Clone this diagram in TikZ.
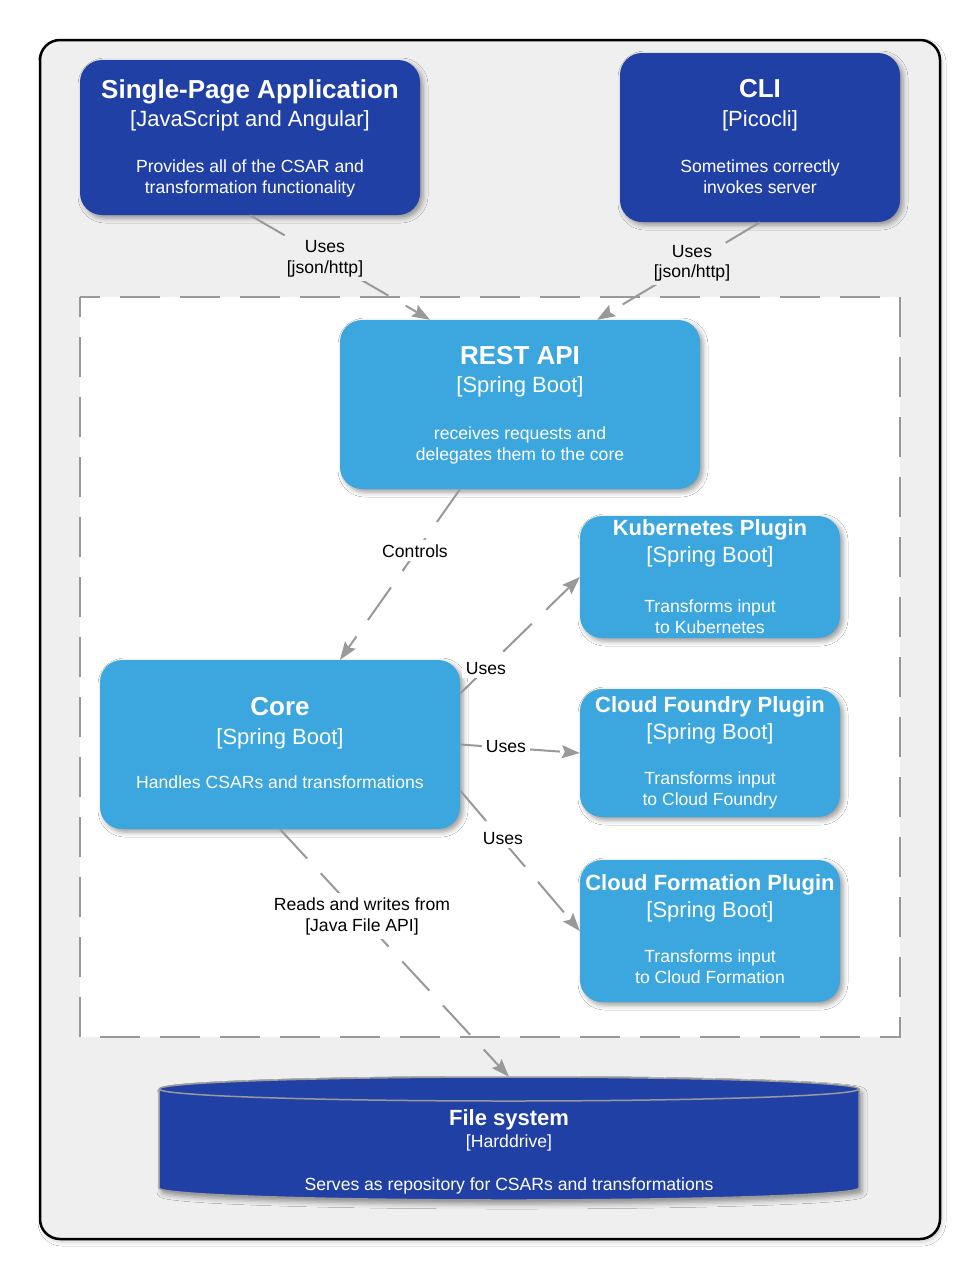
\documentclass[tikz,border=0pt]{standalone}
\usepackage{fontspec}
\setmainfont{Liberation Sans}
\usetikzlibrary{arrows.meta,shadows.blur}
\definecolor{darkblue}{RGB}{33,64,166}
\definecolor{lightblue}{RGB}{60,166,222}
\definecolor{linegray}{RGB}{153,153,153}
\definecolor{bggray}{RGB}{239,239,239}
\begin{document}
\begin{tikzpicture}[x=1pt,y=-1pt,
  box/.style={rectangle, rounded corners=22pt, draw=none, inner sep=0pt,
    blur shadow={shadow xshift=3pt, shadow yshift=-3pt, shadow blur radius=5pt, shadow opacity=40}},
  darkbox/.style={box, fill=darkblue},
  lightbox/.style={box, fill=lightblue},
  ttl/.style={text=white, font=\fontsize{26}{30}\selectfont\bfseries, anchor=base, inner sep=0pt},
  pttl/.style={text=white, font=\fontsize{22}{26}\selectfont\bfseries, anchor=base, inner sep=0pt},
  tech/.style={text=white, font=\fontsize{22}{26}\selectfont, anchor=base, inner sep=0pt},
  desc/.style={text=white, font=\fontsize{17.6}{21}\selectfont, anchor=base, inner sep=0pt},
  lbl/.style={text=black, font=\fontsize{17.6}{21}\selectfont, anchor=base, inner sep=4pt, fill=white},
  olbl/.style={lbl, fill=bggray},
  conn/.style={draw=linegray, line width=2pt, dash pattern=on 40pt off 20pt,
    -{Stealth[length=18pt,width=13pt,inset=3pt]}},
]
\useasboundingbox (0,0) rectangle (980,1280);
\fill[white] (0,0) rectangle (980,1280);

% outer frame
\draw[line width=2.5pt, rounded corners=20pt, fill=bggray,
  blur shadow={shadow xshift=2pt, shadow yshift=-3pt, shadow blur radius=4pt, shadow opacity=20}]
  (40,40) rectangle (940,1239);

% container boundary
\draw[draw=linegray, line width=2pt, fill=white, dash pattern=on 40pt off 20pt, dash phase=20pt]
  (80,297) rectangle (900,1037);

% boxes
\node[darkbox, minimum width=340pt, minimum height=155pt] (spa) at (250,137.5) {};
\node[darkbox, minimum width=280pt, minimum height=169pt] (cli) at (760,137.5) {};
\node[lightbox, minimum width=360pt, minimum height=169pt] (rest) at (520,404.5) {};
\node[lightbox, minimum width=260pt, minimum height=122pt] (k8s) at (710,577) {};
\node[lightbox, minimum width=260pt, minimum height=128pt] (cf) at (710,753) {};
\node[lightbox, minimum width=260pt, minimum height=142pt] (cfm) at (710,931) {};
\node[lightbox, minimum width=360pt, minimum height=169pt] (core) at (280,744.5) {};

% cylinder (file system)
\path[fill=darkblue, blur shadow={shadow xshift=3pt, shadow yshift=-4pt, shadow blur radius=5pt, shadow opacity=40}]
  (159,1089) -- (159,1188) arc[start angle=180, end angle=0, x radius=350, y radius=12]
  -- (859,1089) arc[start angle=0, end angle=-180, x radius=350, y radius=12] -- cycle;
\draw[linegray, line width=1.5pt]
  (159,1089) -- (159,1188) arc[start angle=180, end angle=0, x radius=350, y radius=12]
  -- (859,1089) arc[start angle=0, end angle=-180, x radius=350, y radius=12];
\draw[linegray, line width=1.5pt]
  (159,1089) arc[start angle=180, end angle=0, x radius=350, y radius=12];
\node[inner sep=0pt, minimum width=700pt, minimum height=123pt] (fs) at (509,1138.5) {};

% texts
\node[ttl]  (spa-1) at (250,98)  {Single-Page Application};
\node[tech] (spa-2) at (250,126) {[JavaScript and Angular]};
\node[desc] (spa-3) at (250,172) {Provides all of the CSAR and};
\node[desc] (spa-4) at (250,193) {transformation functionality};

\node[ttl]  (cli-1) at (760,97)  {CLI};
\node[tech] (cli-2) at (760,126) {[Picocli]};
\node[desc] (cli-3) at (760,172) {Sometimes correctly};
\node[desc] (cli-4) at (760,193) {invokes server};

\node[ttl]  (rest-1) at (520,364) {REST API};
\node[tech] (rest-2) at (520,392) {[Spring Boot]};
\node[desc] (rest-3) at (520,439) {receives requests and};
\node[desc] (rest-4) at (520,460) {delegates them to the core};

\node[pttl] (k8s-1) at (710,535) {Kubernetes Plugin};
\node[tech] (k8s-2) at (710,562) {[Spring Boot]};
\node[desc] (k8s-3) at (710,612) {Transforms input};
\node[desc] (k8s-4) at (710,633) {to Kubernetes};

\node[pttl] (cf-1) at (710,712) {Cloud Foundry Plugin};
\node[tech] (cf-2) at (710,739) {[Spring Boot]};
\node[desc] (cf-3) at (710,784) {Transforms input};
\node[desc] (cf-4) at (710,805) {to Cloud Foundry};

\node[pttl] (cfm-1) at (710,890) {Cloud Formation Plugin};
\node[tech] (cfm-2) at (710,917) {[Spring Boot]};
\node[desc] (cfm-3) at (710,962) {Transforms input};
\node[desc] (cfm-4) at (710,983) {to Cloud Formation};

\node[ttl]  (core-1) at (280,715) {Core};
\node[tech] (core-2) at (280,744) {[Spring Boot]};
\node[desc] (core-3) at (280,788) {Handles CSARs and transformations};

\node[pttl] (fs-1) at (509,1125) {File system};
\node[desc] (fs-2) at (509,1147) {[Harddrive]};
\node[desc] (fs-3) at (509,1190) {Serves as repository for CSARs and transformations};

% connectors
\draw[conn] (spa.south) -- ([xshift=-90pt]rest.north);
\draw[conn] (cli.south) -- ([xshift=77pt]rest.north);
\draw[conn] ([xshift=-60pt]rest.south) -- ([xshift=60pt]core.north);
\draw[conn] ([yshift=51pt]core.east) -- (k8s.west);
\draw[conn] (core.east) -- (cf.west);
\draw[conn] ([yshift=-46pt]core.east) -- (cfm.west);
\draw[conn] (core.south) -- (fs.north);

% connector labels
\node[olbl] (l1a) at (325,252) {Uses};
\node[olbl] (l1b) at (325,273) {[json/http]};
\node[olbl] (l2a) at (692,257) {Uses};
\node[olbl] (l2b) at (692,277) {[json/http]};
\node[lbl]  (l3)  at (415,557) {Controls};
\node[lbl]  (l4)  at (486,674) {Uses};
\node[lbl]  (l5)  at (506,752) {Uses};
\node[lbl]  (l6)  at (503,844) {Uses};
\node[lbl]  (l7a) at (362,910) {Reads and writes from};
\node[lbl]  (l7b) at (362,931) {[Java File API]};
\end{tikzpicture}
\end{document}
